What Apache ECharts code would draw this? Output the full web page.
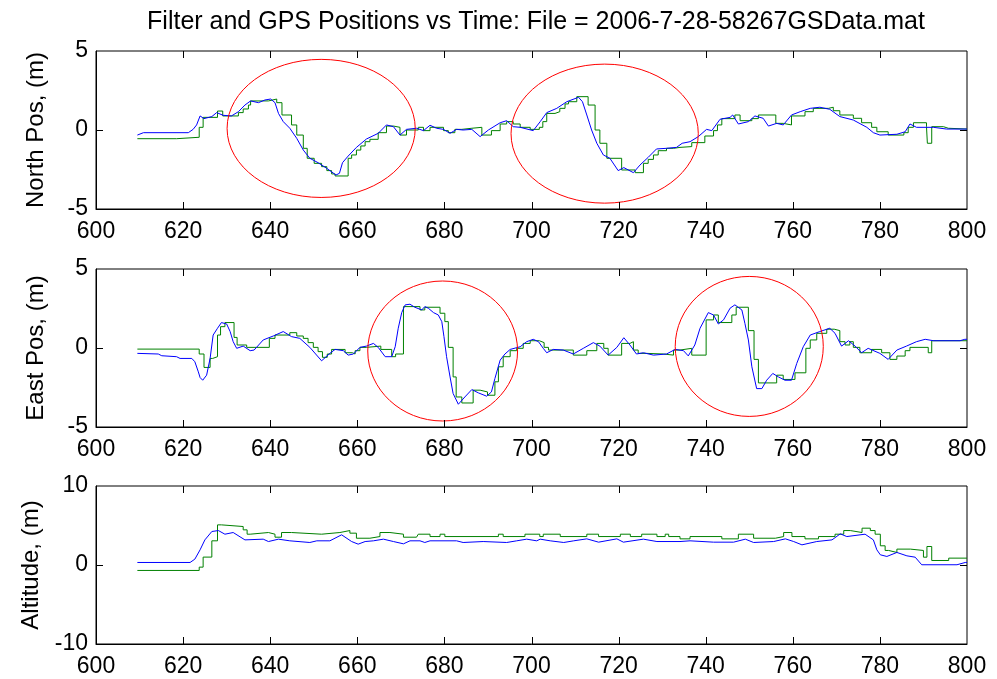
<!DOCTYPE html>
<html>
<head>
<meta charset="utf-8">
<script src="https://cdn.jsdelivr.net/npm/echarts@6/dist/echarts.min.js"></script>
<style>html,body{margin:0;padding:0;background:#fff}#main{width:997px;height:679px}</style>
</head>
<body>
<div id="main"></div>
<script>
// time axis
var timeMin = 600, timeMax = 800, timeStep = 20;
var timeTicks = [620, 640, 660, 680, 700, 720, 740, 760, 780];

// North position: filter (blue) and GPS (green, held between fixes)
var northFilter = [[609.5,-0.32],[610.9,-0.17],[621.2,-0.17],[622.3,0.04],[623.1,0.32],[623.9,0.89],[624.8,0.72],[626.6,0.85],[627.7,1.1],[629.2,0.93],[631.1,0.89],[632.7,1.16],[634.2,1.58],[635.5,1.84],[637.3,1.73],[638.8,1.9],[640.1,1.96],[641.1,1.73],[641.9,1.05],[643.0,0.53],[644.5,0.11],[646.1,-0.53],[647.6,-1.27],[649.1,-1.79],[651.0,-2.07],[653.0,-2.43],[655.1,-2.85],[655.9,-2.74],[656.6,-2.07],[657.9,-1.65],[659.8,-1.1],[662.1,-0.57],[664.8,-0.21],[666.7,0.32],[668.3,0.21],[669.8,-0.32],[671.3,0.04],[673.6,0.11],[675.2,-0.04],[676.7,0.3],[678.2,0.11],[679.8,0.04],[681.3,-0.21],[682.8,0.04],[684.3,0],[686.3,0.04],[688.2,-0.42],[690.1,0],[692.8,0.46],[694.3,0.59],[695.8,0.21],[697.4,0.17],[700.4,-0.04],[702.0,0.53],[703.5,1.1],[705.8,1.37],[708.1,1.79],[710.8,2.07],[711.7,1.79],[712.7,0.95],[713.8,0],[715.0,-0.84],[716.5,-1.58],[718.0,-1.79],[719.9,-2.57],[721.2,-2.38],[723.4,-2.7],[724.9,-2.22],[726.8,-1.73],[728.7,-1.2],[731.0,-1.16],[733.3,-1.1],[734.6,-0.84],[736.4,-0.74],[738.3,-0.42],[740.2,0.04],[741.4,-0.04],[743.3,0.68],[745.6,0.8],[746.2,0.95],[747.5,0.38],[749.8,0.53],[751.3,0.89],[753.2,0.74],[754.4,0.25],[756.3,0.42],[757.8,0.32],[759.7,0.95],[761.7,1.16],[764.0,1.37],[766.2,1.44],[768.5,1.31],[770.8,0.85],[773.9,0.63],[777.0,0.17],[778.5,-0.17],[780.0,-0.32],[783.9,-0.27],[785.8,-0.11],[786.9,0.38],[788.4,0.17],[792.3,0.17],[795.3,0.06],[800,0.06]];
var northGps = [[609.5,-0.55],[618.5,-0.46],[623.7,0.17],[624.6,0.8],[627.9,1.2],[629.1,0.89],[632.7,1.1],[633.8,1.33],[635.0,1.58],[635.5,1.84],[639.6,1.96],[641.5,1.73],[642.7,0.95],[644.9,0.32],[646.1,-0.32],[647.6,-1.16],[648.5,-1.79],[650.1,-2.11],[651.8,-2.32],[653.0,-2.57],[654.1,-2.78],[654.9,-2.91],[657.9,-1.79],[658.7,-1.58],[659.8,-1.27],[660.8,-1.01],[661.8,-0.74],[662.9,-0.59],[664.8,-0.17],[666.7,0.25],[668.3,0.17],[669.8,-0.32],[671.3,0],[674.0,0.17],[675.2,-0.04],[676.7,0.17],[679.8,-0.04],[680.9,-0.17],[682.4,0.04],[684.0,0.11],[686.3,0.17],[688.6,-0.32],[690.8,-0.04],[692.8,0.38],[694.3,0.53],[695.8,0.38],[697.4,0.17],[699.7,0.04],[701.8,0.17],[702.6,0.53],[703.5,1.05],[705.4,1.16],[706.5,1.37],[707.7,1.65],[708.5,1.79],[710.4,2.11],[713.0,1.58],[714.6,0],[715.7,-0.84],[717.3,-1.79],[720.7,-2.53],[723.8,-2.7],[725.7,-2.11],[726.8,-1.86],[728.0,-1.58],[729.1,-1.31],[731.0,-1.16],[732.6,-1.1],[734.1,-1.05],[736.8,-0.8],[739.8,-0.38],[741.8,-0.04],[742.7,0.32],[743.7,0.72],[746.7,0.95],[747.9,0.59],[750.6,0.72],[752.1,0.95],[756.1,0.42],[757.8,0.32],[759.7,0.89],[762.8,1.16],[764.7,1.37],[768.2,1.44],[769.3,1.22],[770.8,0.95],[773.9,0.74],[775.8,0.46],[778.1,0.17],[779.3,-0.11],[781.9,-0.32],[785.5,-0.17],[786.5,0.17],[787.7,0.46],[790.7,0.21],[790.9,-0.84],[791.9,0.21],[794.6,0.11],[795.7,0.06],[800,0.06]];

// East position
var eastFilter = [[609.5,-0.34],[614.3,-0.38],[615.1,-0.49],[618.5,-0.55],[619.3,-0.66],[622.0,-0.66],[622.7,-0.87],[623.5,-1.51],[623.9,-1.87],[624.5,-2.04],[625.4,-1.72],[626.2,-0.66],[626.9,0.82],[627.9,1.25],[628.8,1.61],[630.0,1.52],[630.8,1.04],[631.5,0.4],[632.3,-0.02],[633.8,0.12],[635.4,-0.17],[636.3,-0.13],[638.4,0.51],[640.7,0.76],[643.0,1.04],[644.9,0.72],[646.8,0.61],[649.1,0.04],[651.8,-0.81],[653.7,-0.34],[654.9,-0.09],[656.8,-0.17],[657.9,-0.45],[659.1,-0.38],[660.6,0.04],[662.1,0.12],[663.7,0.29],[664.8,0.04],[666.4,-0.55],[667.9,-0.55],[668.7,0.08],[669.4,1.25],[670.2,2.24],[671.0,2.73],[672.1,2.77],[673.2,2.58],[674.8,2.41],[675.5,2.62],[676.3,2.52],[677.5,2.24],[678.6,2.09],[679.4,1.67],[679.9,0.72],[680.5,-0.55],[681.3,-1.83],[682.0,-2.88],[683.2,-3.56],[684.7,-3.1],[686.3,-2.63],[687.8,-2.84],[689.7,-3.05],[690.8,-2.78],[691.6,-1.93],[692.8,-0.77],[693.9,-0.38],[695.1,-0.09],[697.4,0.08],[698.9,0.4],[700.4,0.55],[701.6,0.4],[702.7,-0.02],[703.5,-0.3],[705.0,-0.09],[707.3,-0.13],[709.6,-0.38],[711.9,-0.02],[714.2,0.34],[715.7,0.12],[717.6,-0.45],[719.6,0.04],[721.2,0.65],[722.6,0.19],[724.1,-0.38],[725.7,-0.3],[728.0,-0.45],[731.0,-0.38],[733.0,-0.09],[734.9,-0.17],[736.0,-0.5],[737.5,0.19],[738.7,1.25],[740.6,2.24],[741.8,2.09],[742.9,1.52],[744.1,1.78],[745.6,2.52],[746.7,2.73],[748.3,2.41],[749.0,1.56],[749.8,0.51],[750.6,-1.19],[751.7,-2.57],[752.9,-2.57],[754.0,-2.04],[755.4,-1.61],[756.7,-1.83],[758.2,-2.04],[759.7,-2.04],[760.9,-0.98],[762.4,0.08],[764.0,0.82],[766.2,1.04],[768.5,1.25],[769.7,0.93],[771.2,0.12],[772.8,0.46],[774.3,0.12],[775.8,-0.3],[777.3,-0.02],[780.0,-0.34],[781.9,-0.72],[783.9,-0.13],[786.1,0.12],[788.4,0.4],[790.4,0.55],[792.3,0.46],[798.4,0.46],[799.5,0.55],[800,0.55]];
var eastGps = [[609.5,-0.07],[623.7,-0.38],[624.8,-1.23],[626.2,-0.66],[626.8,-0.55],[627.9,0.82],[628.6,1.35],[629.6,1.61],[631.7,0.67],[632.4,0.19],[634.6,0.04],[639.8,0.61],[641.1,0.82],[644.5,0.97],[646.1,0.76],[647.6,0.61],[648.7,0.34],[649.9,0.04],[651.0,-0.23],[652.0,-0.59],[653.1,-0.38],[654.1,-0.09],[657.2,-0.3],[658.9,-0.38],[659.5,-0.17],[660.6,0.04],[662.1,0.12],[665.4,-0.09],[667.9,-0.55],[668.8,-0.38],[670.6,2.62],[674.4,2.41],[675.5,2.58],[679.0,2.2],[680.1,1.67],[680.9,0.04],[682.0,-1.83],[682.7,-3.1],[684.0,-3.48],[686.6,-2.67],[688.2,-2.78],[689.9,-2.99],[691.6,-2.14],[692.4,-1.19],[693.5,-0.55],[695.1,-0.17],[696.6,-0.02],[698.1,0.29],[699.7,0.46],[701.8,0.34],[702.9,0.04],[703.9,-0.13],[709.6,-0.45],[712.7,-0.17],[715.0,0.29],[716.6,-0.02],[717.6,-0.45],[720.7,0.29],[722.6,0.4],[723.4,-0.13],[724.5,-0.34],[726.4,-0.38],[730.3,-0.45],[732.6,-0.13],[734.1,-0.02],[736.8,-0.45],[740.1,1.78],[741.8,2.09],[742.9,1.61],[746.0,2.09],[747.0,2.58],[749.8,1.1],[751.1,-0.72],[752.1,-2.21],[756.3,-1.72],[757.8,-1.99],[760.5,-1.57],[763.0,-0.02],[764.0,0.51],[765.5,0.93],[767.8,1.19],[769.5,1.1],[770.8,0.4],[772.0,0.19],[773.1,0.4],[773.9,0.04],[775.4,-0.3],[778.1,-0.09],[780.4,-0.3],[782.3,-0.72],[783.9,-0.51],[785.8,-0.17],[786.9,0.04],[791.1,-0.3],[791.9,0.46],[800,0.46]];

// Altitude
var altFilter = [[609.5,0.32],[621.6,0.32],[622.7,0.74],[623.9,1.92],[625.0,3.18],[626.6,4.24],[628.1,4.36],[629.6,3.9],[631.5,4.11],[634.2,3.18],[638.4,3.27],[639.6,2.97],[641.9,3.27],[644.5,3.06],[649.1,2.85],[650.7,3.06],[653.7,3.06],[656.4,3.82],[658.7,2.97],[660.2,2.64],[661.8,2.97],[663.7,3.06],[666.0,3.27],[668.3,2.97],[670.6,2.68],[672.1,3.06],[674.4,3.06],[675.5,2.85],[676.7,3.06],[682.8,3.06],[684.3,2.85],[688.9,2.97],[694.3,2.85],[696.6,3.06],[698.9,3.27],[701.2,3.06],[702.0,3.27],[704.3,3.06],[707.4,2.85],[709.7,3.06],[712.7,3.31],[715.4,2.89],[719.6,3.31],[721.1,2.89],[725.7,3.27],[728.8,2.97],[734.1,2.97],[736.4,3.06],[741.8,2.89],[746.4,2.89],[749.1,3.27],[751.0,2.85],[755.6,2.97],[758.3,3.31],[760.2,2.97],[762.1,2.55],[765.5,2.97],[769.0,3.18],[770.9,3.94],[772.4,3.6],[776.6,3.9],[778.5,3.18],[779.3,1.92],[780.1,1.29],[781.6,1.08],[783.9,1.59],[786.2,1.16],[788.1,0.99],[789.6,0.03],[797.7,0.03],[799.6,0.32],[800,0.32]];
var altGps = [[609.5,-0.69],[623.7,-0.27],[624.6,1.0],[626.6,3.06],[627.9,5.08],[628.8,4.87],[633.8,4.45],[634.7,3.9],[635.4,4.11],[639.6,3.9],[641.1,3.52],[642.6,4.11],[644.9,3.9],[651.8,4.11],[656.0,4.36],[658.3,4.03],[659.8,3.39],[662.9,3.6],[665.2,4.11],[667.5,3.9],[670.6,3.52],[673.6,3.27],[674.0,3.9],[676.7,3.6],[679.0,3.9],[680.1,3.6],[692.4,3.9],[693.5,3.6],[698.5,3.9],[701.9,3.6],[702.7,3.9],[706.6,3.6],[712.7,3.9],[715.4,3.6],[720.4,3.9],[722.7,3.6],[725.3,3.9],[728.8,3.6],[730.7,3.9],[731.5,3.6],[734.1,3.31],[736.4,3.6],[743.7,3.31],[747.5,3.9],[751.0,3.39],[756.0,3.6],[757.9,4.11],[759.8,3.6],[762.8,3.31],[765.9,3.6],[769.7,3.9],[771.7,4.36],[773.2,4.11],[775.9,4.66],[777.8,4.36],[778.9,3.9],[780.1,2.43],[781.2,1.84],[782.0,1.59],[783.9,2.01],[787.0,1.84],[790.0,0.99],[790.8,2.34],[791.9,0.57],[795.8,0.87],[800,0.87]];

// red rings: [centre time, centre value, half width (s), half height (m)]
var northRings = [[651.7,0.1,21.6,4.37],[716.8,-0.23,21.5,4.4]];
var eastRings = [[679.6,-0.19,17.2,4.43],[750.0,0.1,17.0,4.43]];
var altRings = [];

var yNames = ['North Pos, (m)', 'East Pos, (m)', 'Altitude, (m)'];
var yMins = [-5, -5, -10];
var yMaxs = [5, 5, 10];
var yIntervals = [5, 5, 10];
var yTicks = [0]; // inner tick, the ends sit on the box

var gridTops = [51, 269, 486];
var font = 'Liberation Sans, Arial, sans-serif';
var tickLen = 7;

var grids = [], xAxes = [], yAxes = [], series = [];
var filters = [northFilter, eastFilter, altFilter];
var gpss = [northGps, eastGps, altGps];
var rings = [northRings, eastRings, altRings];

for (var i = 0; i < 3; i++) {
  grids.push({left: 96, right: 30, top: gridTops[i], height: 158, show: true, borderColor: '#000', borderWidth: 1});
  xAxes.push({
    type: 'value', gridIndex: i, position: 'bottom', min: timeMin, max: timeMax, interval: timeStep,
    axisLine: {show: true, onZero: false, lineStyle: {color: '#000'}},
    axisTick: {show: false},
    axisLabel: {color: '#000', fontSize: 23, fontFamily: font, margin: 11},
    splitLine: {show: false}
  });
  yAxes.push({
    type: 'value', gridIndex: i, position: 'left', min: yMins[i], max: yMaxs[i], interval: yIntervals[i],
    name: yNames[i], nameLocation: 'middle', nameGap: 48, nameRotate: 90,
    nameTextStyle: {color: '#000', fontSize: 24, fontFamily: font},
    axisLine: {show: true, onZero: false, lineStyle: {color: '#000'}},
    axisTick: {show: false},
    axisLabel: {color: '#000', fontSize: 23, fontFamily: font, margin: 8},
    splitLine: {show: false}
  });

  series.push({
    type: 'line', xAxisIndex: i, yAxisIndex: i, data: filters[i],
    showSymbol: false, symbol: 'none', lineStyle: {color: '#0000ff', width: 1}, z: 3
  });
  series.push({
    type: 'line', xAxisIndex: i, yAxisIndex: i, data: gpss[i], step: 'end',
    showSymbol: false, symbol: 'none', lineStyle: {color: '#008000', width: 1}, z: 2
  });

  if (rings[i].length) {
    series.push({
      type: 'custom', xAxisIndex: i, yAxisIndex: i, data: rings[i], z: 4, clip: false,
      renderItem: function (params, api) {
        var c = api.coord([api.value(0), api.value(1)]);
        var s = api.size([api.value(2), api.value(3)]);
        return {
          type: 'ellipse',
          shape: {cx: c[0], cy: c[1], rx: s[0], ry: s[1]},
          style: {fill: 'none', stroke: '#ff0000', lineWidth: 1}
        };
      }
    });
  }
}

var chart = echarts.init(document.getElementById('main'));
chart.setOption({
  animation: false,
  backgroundColor: '#fff',
  title: {
    text: 'Filter and GPS Positions vs Time: File = 2006-7-28-58267GSData.mat',
    left: 531, top: 5, textAlign: 'center',
    textStyle: {color: '#000', fontSize: 25, fontWeight: 'normal', fontFamily: font}
  },
  grid: grids,
  xAxis: xAxes,
  yAxis: yAxes,
  series: series
});

// matlab style ticks inside the box on all four sides, placed through the axes' own scales
function tickLine(x1, y1, x2, y2) {
  return {type: 'line', z: 100, silent: true,
    shape: {x1: x1, y1: y1, x2: x2, y2: y2},
    style: {stroke: '#000', lineWidth: 1}};
}
var tickMarks = [];
for (var g = 0; g < 3; g++) {
  var finder = {xAxisIndex: g, yAxisIndex: g};
  for (var k = 0; k < timeTicks.length; k++) {
    var pb = chart.convertToPixel(finder, [timeTicks[k], yMins[g]]);
    var pt = chart.convertToPixel(finder, [timeTicks[k], yMaxs[g]]);
    var x = Math.round(pb[0]) + 0.5;
    tickMarks.push(tickLine(x, pb[1], x, pb[1] - tickLen));
    tickMarks.push(tickLine(x, pt[1], x, pt[1] + tickLen));
  }
  for (var m = 0; m < yTicks.length; m++) {
    var pl = chart.convertToPixel(finder, [timeMin, yTicks[m]]);
    var pr = chart.convertToPixel(finder, [timeMax, yTicks[m]]);
    var y = Math.round(pl[1]) + 0.5;
    tickMarks.push(tickLine(pl[0], y, pl[0] + tickLen, y));
    tickMarks.push(tickLine(pr[0], y, pr[0] - tickLen, y));
  }
}
chart.setOption({graphic: tickMarks});
</script>
</body>
</html>
